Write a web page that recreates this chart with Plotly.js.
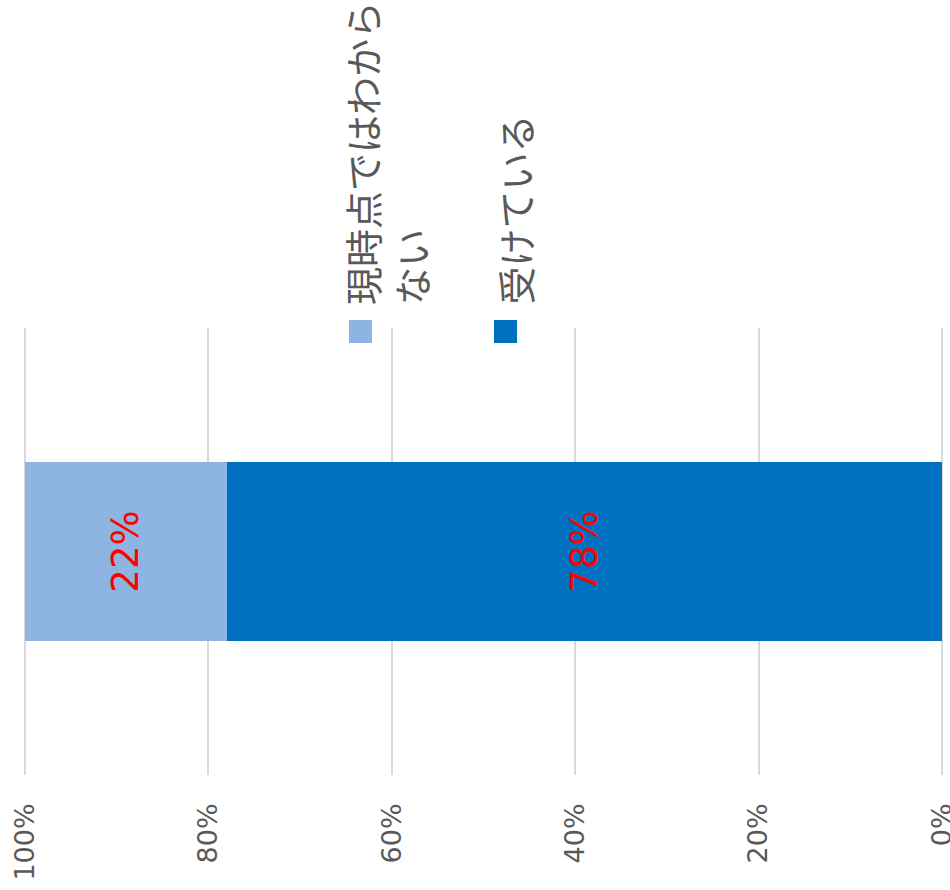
<!DOCTYPE html>
<html>
<head>
<meta charset="utf-8">
<script src="https://cdn.plot.ly/plotly-3.0.1.min.js"></script>
<style>html,body{margin:0;padding:0;background:#fff;}#chart{width:950px;height:890px;}</style>
</head>
<body>
<div id="chart"></div>
<script>
// Data
const categories = [''];
const seriesNames = ['受けている', '現時点ではわからない'];
const legendLabels = ['受けている', '現時点ではわから<br>ない'];
const valuesReceiving = [0.78];
const valuesUnknown = [0.22];
const labelsReceiving = ['78%'];
const labelsUnknown = ['22%'];
const tickVals = [0, 0.2, 0.4, 0.6, 0.8, 1.0];
const tickLabels = ['0%', '20%', '40%', '60%', '80%', '100%'];
const colors = ['#0070C0', '#8EB4E2'];

// plot area in pixels: x 24..943 (value 1 at 25, 0 at 942), y 328..775
const L = 24, R = 943, T = 328, B = 775;
const PX = x => (x - L) / (R - L);
const PY = y => (B - y) / (B - T);
const ext = 1 / 917;

const barText = {family: 'DejaVu Sans', size: 37, color: '#FF0000'};

const traces = [
  {
    type: 'bar', orientation: 'h', name: seriesNames[0],
    x: valuesReceiving, y: categories,
    marker: {color: colors[0]},
    text: labelsReceiving, textposition: 'inside', insidetextanchor: 'middle',
    textangle: -90, textfont: barText, constraintext: 'none',
    width: 0.4, hoverinfo: 'none'
  },
  {
    type: 'bar', orientation: 'h', name: seriesNames[1],
    x: valuesUnknown, y: categories,
    marker: {color: colors[1]},
    text: labelsUnknown, textposition: 'inside', insidetextanchor: 'middle',
    textangle: -90, textfont: barText, constraintext: 'none',
    width: 0.4, hoverinfo: 'none'
  }
];

const legendFont = {family: 'Noto Sans CJK JP', size: 38, color: '#595959'};

// edge gridlines (at the first and last tick values)
const edgeGrid = [tickVals[0], tickVals[tickVals.length - 1]].map(v => ({
  type: 'line', xref: 'x', yref: 'paper', x0: v, x1: v, y0: 0, y1: 1,
  line: {color: '#D9D9D9', width: 2}, layer: 'below'
}));

const layout = {
  width: 950, height: 890,
  margin: {l: L, r: 950 - R, t: T, b: 890 - B, pad: 0},
  paper_bgcolor: '#ffffff', plot_bgcolor: '#ffffff',
  barmode: 'stack',
  showlegend: false,
  xaxis: {
    range: [1 + ext, -ext], tickvals: tickVals, ticktext: tickLabels,
    tickangle: -90, showgrid: true, gridcolor: '#D9D9D9', gridwidth: 2,
    zeroline: false,
    showline: false, ticks: '', ticklabelstandoff: 22, ticklabeloverflow: 'allow',
    tickfont: {family: 'DejaVu Sans', size: 27, color: '#595959'},
    fixedrange: true
  },
  yaxis: {
    range: [-0.5, 0.5], showticklabels: false, showgrid: false,
    zeroline: false, showline: false, ticks: '', fixedrange: true
  },
  shapes: edgeGrid.concat([
    {type: 'rect', xref: 'paper', yref: 'paper', x0: PX(349), x1: PX(372), y0: PY(343), y1: PY(320),
     fillcolor: colors[1], line: {width: 0}},
    {type: 'rect', xref: 'paper', yref: 'paper', x0: PX(494), x1: PX(517), y0: PY(343), y1: PY(320),
     fillcolor: colors[0], line: {width: 0}}
  ]),
  annotations: [
    {text: legendLabels[1], xref: 'paper', yref: 'paper', x: PX(332), y: PY(307),
     xanchor: 'left', yanchor: 'bottom', textangle: -90, align: 'left',
     showarrow: false, font: legendFont},
    {text: legendLabels[0], xref: 'paper', yref: 'paper', x: PX(484), y: PY(307),
     xanchor: 'left', yanchor: 'bottom', textangle: -90, align: 'left',
     showarrow: false, font: legendFont}
  ]
};

Plotly.newPlot('chart', traces, layout, {displayModeBar: false, staticPlot: true});
</script>
</body>
</html>
